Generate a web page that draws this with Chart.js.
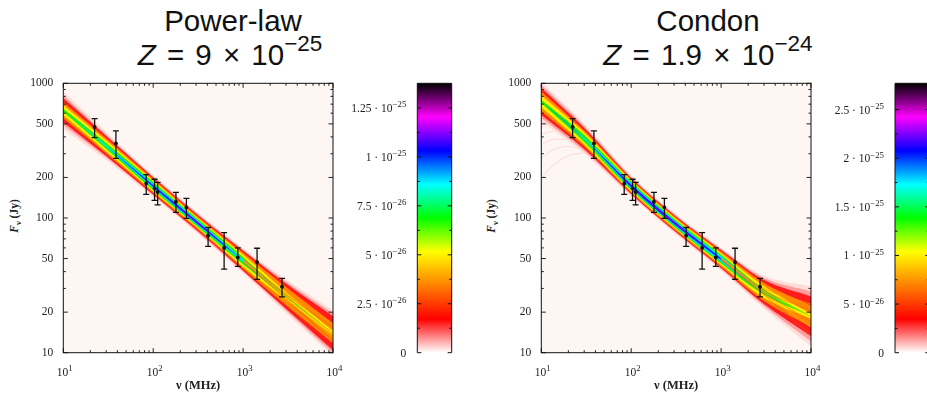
<!DOCTYPE html>
<html lang="en">
<head>
<meta charset="UTF-8" />
<title>Power-law and Condon</title>
<script src="https://cdn.jsdelivr.net/npm/chart.js@4"></script>
<style>
  html, body { margin: 0; padding: 0; width: 927px; height: 393px; overflow: hidden; background: #fff; }
  canvas { position: absolute; top: 75px; filter: blur(.35px); }
  .title { position: absolute; top: 4px; width: 400px; text-align: center; font: 29.5px/34px "Liberation Sans", sans-serif; color: #111; }
  .title span { position: relative; word-spacing: 3px; }
  .title sup { font-size: 22.5px; line-height: 0; position: relative; top: -3px; vertical-align: super; }
  .ylab { position: absolute; top: 210px; width: 60px; text-align: center; font: bold 11.5px "Liberation Serif", serif; color: #222; transform: rotate(-90deg); }
  .ylab sub { font-size: 8.5px; line-height: 0; }
</style>
</head>
<body>
<div class="title" style="left:33px">Power-law<br><span style="left:-3px"><i>Z</i> = 9 × 10<sup>−25</sup></span></div>
<div class="title" style="left:508px">Condon<br><span><i>Z</i> = 1.9 × 10<sup>−24</sup></span></div>
<div class="ylab" style="left:-16px"><i>F</i><sub>ν</sub> (Jy)</div>
<div class="ylab" style="left:461px"><i>F</i><sub>ν</sub> (Jy)</div>
<canvas id="plaw" width="345" height="318" style="left:0"></canvas>
<canvas id="plawBar" width="115" height="318" style="left:345px"></canvas>
<canvas id="condon" width="345" height="318" style="left:478px"></canvas>
<canvas id="condonBar" width="112" height="318" style="left:825px"></canvas>
<script>
// axis ticks, the part after ^ is drawn raised
const xMajor = [10, 100, 1000, 10000];
const xLabels = ["10^1", "10^2", "10^3", "10^4"];
const xMinor = [20, 30, 40, 50, 60, 70, 80, 90, 200, 300, 400, 500, 600, 700, 800, 900, 2000, 3000, 4000, 5000, 6000, 7000, 8000, 9000];
const yMajor = [10, 20, 50, 100, 200, 500, 1000];
const yMinor = [30, 40, 60, 70, 80, 90, 300, 400, 600, 700, 800, 900];

// measured points, same in both panels (MHz, Jy)
const nuData = [22.3, 38.5, 83.6, 103.5, 112, 179, 234, 408, 615, 873, 1430, 2710];
const fluxData = [474, 358, 180, 166, 156, 132, 120, 74, 60, 51, 47, 30.9];
const fluxHigh = [547, 443, 210, 194, 184, 155, 140, 85, 78, 60, 59.6, 35.6];
const fluxLow = [395, 277, 150, 135, 125, 110, 99.5, 61.6, 41.8, 43.7, 35, 26];

// posterior band: log10 flux down the middle and half widths in dex, read at these frequencies
const nuKnots = [10, 30, 100, 300, 1000, 3000, 10000];
const plawCentre = [2.80, 2.535, 2.238, 1.973, 1.683, 1.42, 1.145];
const plawPale = [.141, .104, .082, .078, .093, .126, .171];
const plawPink = [.111, .085, .070, .067, .081, .107, .148];
const plawRed = [.089, .074, .063, .059, .074, .093, .126];
const plawOrange = [.059, .056, .052, .048, .059, .067, .074];
const plawYellow = [.037, .041, .041, .037, .044, .030, .015];
const plawGreen = [.011, .022, .030, .028, .026, .007, 0];
const plawCyan = [0, .007, .019, .019, .011, 0, 0];
const plawBlue = [0, 0, .007, .010, 0, 0, 0];
const plawPurple = [0, 0, .002, .004, 0, 0, 0];

const condonCentre = [2.865, 2.59, 2.238, 1.965, 1.695, 1.45, 1.27];
const condonPale = [.148, .111, .078, .074, .085, .122, .222];
const condonPink = [.122, .093, .067, .064, .074, .104, .185];
const condonRed = [.100, .078, .059, .058, .067, .089, .148];
const condonOrange = [.074, .059, .050, .048, .056, .067, .081];
const condonYellow = [.044, .044, .041, .038, .044, .044, .019];
const condonGreen = [.011, .026, .031, .030, .033, .019, 0];
const condonCyan = [0, .007, .022, .021, .022, .003, 0];
const condonBlue = [0, 0, .011, .012, .007, 0, 0];
const condonPurple = [0, 0, .004, .005, 0, 0, 0];

const bandColors = ["#ffdcd8", "#ff9c9c", "#ff1c1c", "#ff8800", "#ffee00", "#20f000", "#00e8f0", "#0030ff", "#9000e8"];

// single posterior curves that show up in the fan at high frequency
const nuStreak = [1000, 3000, 10000];
const plawStreaks = [[47, 25, 12.2], [48, 25.6, 13], [48, 26, 13.8], [48.5, 26.5, 14.6], [49, 27, 15.4], [49.5, 27.6, 16.2]];
const condonStreaks = [[49, 27, 13.5], [49.5, 27.5, 15.5], [49.5, 28, 17], [50, 28.5, 18.5], [50, 29, 20.5], [50.5, 30, 23]];
const streakColors = ["#ff5000", "#ffb000", "#ff7000", "#ffc800", "#ff6000", "#ff9000"];

// the faint curves that turn over at the low end of the Condon panel
const nuStray = [10, 14, 20, 30];
const stray1 = [200, 250, 290, 305];
const stray2 = [280, 325, 340, 320];
const stray3 = [350, 385, 380, 340];
const stray4 = [420, 440, 410, 350];
const stray5 = [480, 490, 435, 360];

// colour bars
const barStops = [0, .125, .25, .375, .5, .625, .75, .875, 1];
const barColors = ["#ffffff", "#ff0000", "#ff8000", "#ffff00", "#00ff00", "#00ffff", "#0000ff", "#ff00ff", "#000000"];
const plawBarMax = 1.376e-25;
const plawBarTicks = [0, 2.5e-26, 5e-26, 7.5e-26, 1e-25, 1.25e-25];
const plawBarLabels = ["0", "2.5 · 10^−26", "5 · 10^−26", "7.5 · 10^−26", "1 · 10^−25", "1.25 · 10^−25"];
const plawBarMinor = [1.25e-26, 3.75e-26, 6.25e-26, 8.75e-26, 1.125e-25];
const condonBarMax = 2.77e-25;
const condonBarTicks = [0, 5e-26, 1e-25, 1.5e-25, 2e-25, 2.5e-25];
const condonBarLabels = ["0", "5 · 10^−26", "1 · 10^−25", "1.5 · 10^−25", "2 · 10^−25", "2.5 · 10^−25"];
const condonBarMinor = [2.5e-26, 7.5e-26, 1.25e-25, 1.75e-25, 2.25e-25];

const serif = "'Liberation Serif', serif";
const tickFont = { family: serif, size: 11.5 };

function tickMark(ctx, x1, y1, x2, y2) {
  ctx.moveTo(x1, y1);
  ctx.lineTo(x2, y2);
}

// label with a raised exponent, x is the centre or the right edge
function expLabel(ctx, text, x, y, align) {
  const parts = text.split("^");
  const exp = parts[1] || "";
  ctx.font = "11.5px " + serif;
  const w1 = ctx.measureText(parts[0]).width;
  ctx.font = "8.8px " + serif;
  const w2 = ctx.measureText(exp).width;
  const start = align === "center" ? x - (w1 + w2) / 2 : x - w1 - w2;
  ctx.textAlign = "left";
  ctx.textBaseline = "alphabetic";
  ctx.fillText(exp, start + w1, y - 4.5);
  ctx.font = "11.5px " + serif;
  ctx.fillText(parts[0], start, y);
}

// plot background, frame, the inward ticks on all four sides and the x labels
const framePlugin = {
  id: "frame",
  beforeDatasetsDraw(chart) {
    const a = chart.chartArea;
    chart.ctx.fillStyle = "#fef6f3";
    chart.ctx.fillRect(a.left, a.top, a.right - a.left, a.bottom - a.top);
  },
  afterDraw(chart) {
    const a = chart.chartArea, ctx = chart.ctx;
    const x = chart.scales.x, y = chart.scales.y;
    ctx.save();
    ctx.strokeStyle = "#222";
    ctx.lineWidth = 1;
    ctx.beginPath();
    xMajor.forEach(v => { const p = x.getPixelForValue(v); tickMark(ctx, p, a.bottom, p, a.bottom - 4.5); tickMark(ctx, p, a.top, p, a.top + 4.5); });
    xMinor.forEach(v => { const p = x.getPixelForValue(v); tickMark(ctx, p, a.bottom, p, a.bottom - 2.5); tickMark(ctx, p, a.top, p, a.top + 2.5); });
    yMajor.forEach(v => { const p = y.getPixelForValue(v); tickMark(ctx, a.left, p, a.left + 4.5, p); tickMark(ctx, a.right, p, a.right - 4.5, p); });
    yMinor.forEach(v => { const p = y.getPixelForValue(v); tickMark(ctx, a.left, p, a.left + 2.5, p); tickMark(ctx, a.right, p, a.right - 2.5, p); });
    ctx.stroke();
    ctx.strokeStyle = "#111";
    ctx.strokeRect(a.left, a.top, a.right - a.left, a.bottom - a.top);
    ctx.fillStyle = "#222";
    xMajor.forEach((v, i) => expLabel(ctx, xLabels[i], x.getPixelForValue(v) + 1.5, a.bottom + 23, "center"));
    ctx.restore();
  }
};

const barFramePlugin = {
  id: "barFrame",
  afterDraw(chart) {
    const a = chart.chartArea, ctx = chart.ctx, y = chart.scales.y;
    const o = chart.options.plugins.barFrame;
    ctx.save();
    ctx.strokeStyle = "#111";
    ctx.lineWidth = 1;
    ctx.beginPath();
    o.ticks.forEach(v => { const p = y.getPixelForValue(v); tickMark(ctx, a.left, p, a.left + 4, p); tickMark(ctx, a.right, p, a.right - 4, p); });
    o.minor.forEach(v => { const p = y.getPixelForValue(v); tickMark(ctx, a.left, p, a.left + 2.5, p); tickMark(ctx, a.right, p, a.right - 2.5, p); });
    tickMark(ctx, a.left, a.top, a.left, a.bottom);
    tickMark(ctx, a.right, a.top, a.right, a.bottom);
    tickMark(ctx, a.left, a.top, a.right, a.top);
    ctx.stroke();
    ctx.fillStyle = "#222";
    o.ticks.forEach((v, i) => expLabel(ctx, o.labels[i], a.left - 11, y.getPixelForValue(v) + 4, "right"));
    ctx.restore();
  }
};

// keep the plot box where it is, labels may hang over its edges
function noOverhang(s) {
  s.paddingLeft = s.paddingRight = s.paddingTop = s.paddingBottom = 0;
}

function pts(xs, ys) {
  return xs.map((v, i) => ({ x: v, y: ys[i] }));
}

function bandDatasets(centre, widths) {
  const sets = [];
  widths.forEach((w, i) => {
    const upper = centre.map((c, k) => Math.pow(10, c + w[k]));
    const lower = centre.map((c, k) => Math.pow(10, c - w[k]));
    const common = { borderWidth: 0, pointRadius: 0, cubicInterpolationMode: "monotone", order: 100 - i };
    sets.push({ ...common, data: pts(nuKnots, upper), fill: "+1", backgroundColor: bandColors[i] });
    sets.push({ ...common, data: pts(nuKnots, lower), fill: false });
  });
  return sets;
}

function errorDatasets() {
  return nuData.map((nu, i) => ({
    data: [{ x: nu, y: fluxHigh[i] }, { x: nu, y: fluxData[i] }, { x: nu, y: fluxLow[i] }],
    borderColor: "#111",
    backgroundColor: "#111",
    borderWidth: 1.3,
    pointBorderColor: "#111",
    pointBorderWidth: 1.3,
    pointStyle: ["line", "circle", "line"],
    pointRadius: [3, 1.3, 3],
    fill: false,
    order: 0
  }));
}

function thinLine(xs, ys, color, order) {
  return {
    data: pts(xs, ys),
    borderColor: color,
    borderWidth: .7,
    pointRadius: 0,
    cubicInterpolationMode: "monotone",
    fill: false,
    order: order
  };
}

function makePanel(id, centre, widths, streaks, strays) {
  const strayData = strays.map(s => thinLine(nuStray, s, "rgba(255,110,110,.28)", 200));
  const streakData = streaks.map((s, i) => thinLine(nuStreak, s, streakColors[i], 1));
  return new Chart(document.getElementById(id), {
    type: "line",
    data: { datasets: strayData.concat(bandDatasets(centre, widths), streakData, errorDatasets()) },
    plugins: [framePlugin],
    options: {
      responsive: false,
      animation: false,
      layout: { padding: { top: 8.3, right: 12, left: 0, bottom: 0 } },
      plugins: { legend: { display: false }, tooltip: { enabled: false } },
      scales: {
        x: {
          type: "logarithmic",
          min: 10,
          max: 10000,
          grid: { display: false, drawTicks: false },
          border: { display: false },
          afterBuildTicks: s => { s.ticks = xMajor.map(v => ({ value: v })); },
          afterFit: s => { s.height = 40.3; noOverhang(s); },
          ticks: { display: false },
          title: {
            display: true,
            text: "ν (MHz)",
            color: "#222",
            font: { family: serif, size: 12.5, weight: "bold" },
            padding: { top: 0, bottom: 0 }
          }
        },
        y: {
          type: "logarithmic",
          min: 10,
          max: 1000,
          grid: { display: false, drawTicks: false },
          border: { display: false },
          afterBuildTicks: s => { s.ticks = yMajor.map(v => ({ value: v })); },
          afterFit: s => { s.width = 63.3; noOverhang(s); },
          ticks: { autoSkip: false, color: "#222", font: tickFont, padding: 10, callback: v => String(v) }
        }
      }
    }
  });
}

function makeBar(id, max, ticks, labels, minor, yWidth, rightPad) {
  return new Chart(document.getElementById(id), {
    type: "bar",
    data: {
      labels: [""],
      datasets: [{
        data: [max],
        barPercentage: 1,
        categoryPercentage: 1,
        backgroundColor: c => {
          const a = c.chart.chartArea;
          if (!a) return "#fff";
          const g = c.chart.ctx.createLinearGradient(0, a.bottom, 0, a.top);
          barStops.forEach((s, i) => g.addColorStop(s, barColors[i]));
          return g;
        }
      }]
    },
    plugins: [barFramePlugin],
    options: {
      responsive: false,
      animation: false,
      layout: { padding: { top: 8.3, right: rightPad, left: 0, bottom: 40.3 } },
      plugins: { legend: { display: false }, tooltip: { enabled: false }, barFrame: { ticks: ticks, labels: labels, minor: minor } },
      scales: {
        x: { display: false },
        y: {
          min: 0,
          max: max,
          grid: { display: false, drawTicks: false },
          border: { display: false },
          afterBuildTicks: s => { s.ticks = ticks.map(v => ({ value: v })); },
          afterFit: s => { s.width = yWidth; noOverhang(s); },
          ticks: { display: false }
        }
      }
    }
  });
}

makePanel("plaw", plawCentre, [plawPale, plawPink, plawRed, plawOrange, plawYellow, plawGreen, plawCyan, plawBlue, plawPurple], plawStreaks, []);
makePanel("condon", condonCentre, [condonPale, condonPink, condonRed, condonOrange, condonYellow, condonGreen, condonCyan, condonBlue, condonPurple], condonStreaks, [stray1, stray2, stray3, stray4, stray5]);
makeBar("plawBar", plawBarMax, plawBarTicks, plawBarLabels, plawBarMinor, 72.3, 8.3);
makeBar("condonBar", condonBarMax, condonBarTicks, condonBarLabels, condonBarMinor, 70, 7.7);
</script>
</body>
</html>
